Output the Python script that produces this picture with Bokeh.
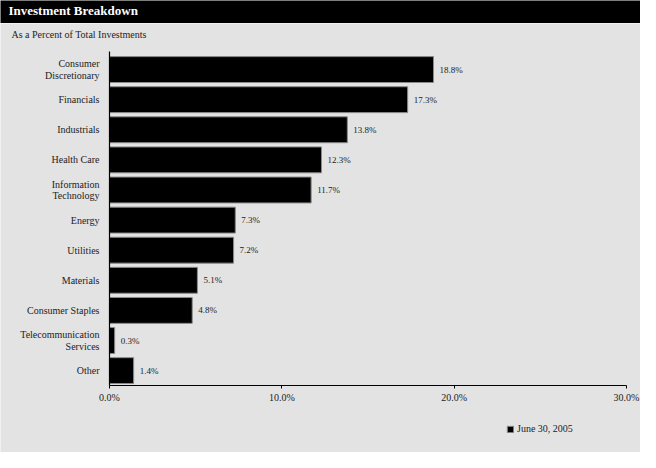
from bokeh.plotting import figure
from bokeh.models import (ColumnDataSource, Label, Legend, LegendItem, FixedTicker, Range1d)
from bokeh.embed import file_html
from bokeh.resources import INLINE
from bokeh.core.properties import value

# ---- data ----
categories = ["Consumer Discretionary", "Financials", "Industrials", "Health Care",
              "Information Technology", "Energy", "Utilities", "Materials",
              "Consumer Staples", "Telecommunication Services", "Other"]
category_labels = ["Consumer\nDiscretionary", "Financials", "Industrials", "Health Care",
                   "Information\nTechnology", "Energy", "Utilities", "Materials",
                   "Consumer Staples", "Telecommunication\nServices", "Other"]
values = [18.8, 17.3, 13.8, 12.3, 11.7, 7.3, 7.2, 5.1, 4.8, 0.3, 1.4]
x_ticks = [0, 10, 20, 30]
x_tick_labels = ["0.0%", "10.0%", "20.0%", "30.0%"]
series_name = "June 30, 2005"
title_text = "Investment Breakdown"
subtitle_text = "As a Percent of Total Investments"

FONT = "Liberation Serif"
BG = "#e3e3e3"
TXT = "#222222"
W = 640
H_MAIN = 429

# ---- header bar ----
header = figure(width=W, height=23, x_range=(0, 1), y_range=(0, 1),
                output_backend="svg", toolbar_location=None,
                x_axis_location=None, y_axis_location=None, min_border=0, title=None)
header.grid.visible = False
header.outline_line_color = None
header.background_fill_color = "black"
header.border_fill_color = "black"
header.add_layout(Label(x=8, y=6, x_units="screen", y_units="screen", text=title_text,
                        text_color="white", text_font=FONT, text_font_style="bold",
                        text_font_size="13px"))

# ---- main chart ----
n = len(categories)
ypos = [n - 1 - i for i in range(n)]          # first category at top
src = ColumnDataSource(dict(y=ypos, val=values, lab=[f"{v:.1f}%" for v in values]))

# two-line category labels -> two ticks per category
LINE = 0.19
y_ticks, y_overrides = [], {}
for yp, lab in zip(ypos, category_labels):
    parts = lab.split("\n")
    if len(parts) == 1:
        y_ticks.append(float(yp))
        y_overrides[float(yp)] = parts[0]
    else:
        for k, part in enumerate(parts):
            t = round(yp + LINE - 2 * LINE * k, 3)
            y_ticks.append(t)
            y_overrides[t] = part

AXIS_TOP = n - 0.4   # axis line runs a little above the first bar
Y_TOP = n + 0.53     # room above for the subtitle
Y_BOTTOM = -2.72     # room below the axis for tick labels and legend
X_LEFT = -6.325      # room left of 0% for the category labels
X_RIGHT = 30.812     # room right of 30% for its tick label

p = figure(width=W, height=H_MAIN, y_range=Range1d(Y_BOTTOM, Y_TOP),
           x_range=Range1d(X_LEFT, X_RIGHT),
           output_backend="svg", toolbar_location=None, title=None, min_border=0)
p.background_fill_color = BG
p.border_fill_color = BG
p.outline_line_color = None
p.grid.visible = False

bars = p.hbar(y="y", right="val", left=0, height=0.86, source=src,
              fill_color="black", line_color="#8a8a8a", line_width=1)
p.text(x="val", y="y", text="lab", source=src, x_offset=6, text_baseline="middle",
       text_font=value(FONT), text_font_size="9px", text_color=TXT)

xa = p.xaxis[0]
xa.fixed_location = -0.5
xa.bounds = (x_ticks[0], x_ticks[-1])
xa.ticker = FixedTicker(ticks=x_ticks, minor_ticks=[])
xa.major_label_overrides = {t: l for t, l in zip(x_ticks, x_tick_labels)}
xa.minor_tick_line_color = None
xa.major_tick_in = 0
xa.major_tick_out = 3
xa.axis_line_color = "black"
xa.axis_line_width = 1.2
xa.major_tick_line_color = "black"
xa.major_label_text_font = FONT
xa.major_label_text_font_size = "10px"
xa.major_label_text_color = TXT
xa.major_label_standoff = 3

ya = p.yaxis[0]
ya.fixed_location = 0
ya.bounds = (-0.5, AXIS_TOP)
ya.ticker = FixedTicker(ticks=y_ticks, minor_ticks=[])
ya.major_label_overrides = y_overrides
ya.major_tick_in = 0
ya.major_tick_out = 0
ya.minor_tick_line_color = None
ya.axis_line_color = "black"
ya.axis_line_width = 1.2
ya.major_label_text_font = FONT
ya.major_label_text_font_size = "10px"
ya.major_label_text_color = TXT
ya.major_label_standoff = 10

p.add_layout(Label(x=11, y=H_MAIN - 11, x_units="screen", y_units="screen",
                   text=subtitle_text, text_color=TXT, text_font=FONT,
                   text_font_size="10px", text_baseline="middle"))

legend = Legend(items=[LegendItem(label=series_name, renderers=[bars])],
                location=(506, 18), background_fill_alpha=0, border_line_color=None,
                padding=0, margin=0, glyph_width=8, glyph_height=8, label_standoff=3,
                label_text_font=FONT, label_text_font_size="10px", label_text_color=TXT)
p.add_layout(legend, "center")

open("out.html", "w").write(file_html([header, p], INLINE))
